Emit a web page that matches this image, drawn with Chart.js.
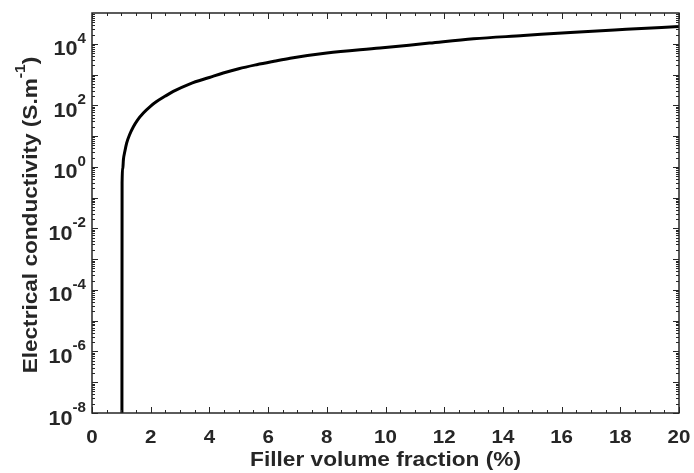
<!DOCTYPE html>
<html>
<head>
<meta charset="utf-8">
<script src="https://cdn.jsdelivr.net/npm/chart.js@4/dist/chart.umd.min.js"></script>
<style>
  html, body { margin: 0; padding: 0; background: #ffffff; }
  #wrap { width: 694px; height: 473px; }
</style>
</head>
<body>
<div id="wrap"><canvas id="chart" width="694" height="473"></canvas></div>
<script>
// filler volume fraction (%) and conductivity (S/m)
const fraction = [1.02, 1.025, 1.05, 1.07, 1.12, 1.18, 1.28, 1.41, 1.55, 1.75, 2.0, 2.2, 2.5, 2.77, 3.34, 4.0, 4.47, 5.0, 5.61, 6.2, 6.75, 8.0, 9.81, 11.5, 13.0, 14.7, 16.3, 18.2, 20.0];
const conductivity = [1e-8, 0.3, 0.9, 1.7, 3.2, 5.9, 11, 20, 33, 56, 94, 132, 200, 282, 500, 800, 1120, 1550, 2090, 2700, 3390, 5000, 7240, 10500, 14500, 18500, 23400, 29500, 36300];

const xTicks = [0, 2, 4, 6, 8, 10, 12, 14, 16, 18, 20];
const yTickExponents = [-8, -6, -4, -2, 0, 2, 4];

const xTitle = "Filler volume fraction (%)";
const yTitleMain = "Electrical conductivity (S.m";
const yTitleSup = "-1";

const INK = "#262626";
const FONT = "'Liberation Sans', Arial, sans-serif";

// draws text stretched horizontally, returns drawn width
const stretchText = (ctx, text, x, y, size, align, stretch) => {
  ctx.font = "bold " + size + "px " + FONT;
  const w = ctx.measureText(text).width * stretch;
  let left = x;
  if (align === "center") left = x - w / 2;
  if (align === "right") left = x - w;
  ctx.save();
  ctx.translate(left, y);
  ctx.scale(stretch, 1);
  ctx.textAlign = "left";
  ctx.textBaseline = "middle";
  ctx.fillText(text, 0, 0);
  ctx.restore();
  return w;
};

const measure = (ctx, text, size, stretch) => {
  ctx.font = "bold " + size + "px " + FONT;
  return ctx.measureText(text).width * stretch;
};

const matlabAxes = {
  id: "matlabAxes",
  afterDraw(chart) {
    const ctx = chart.ctx;
    const area = chart.chartArea;
    const xs = chart.scales.x;
    const ys = chart.scales.y;
    ctx.save();
    ctx.strokeStyle = INK;
    ctx.lineWidth = 1.5;
    ctx.strokeRect(area.left, area.top, area.right - area.left, area.bottom - area.top);

    // x ticks (inward, bottom and top)
    ctx.lineWidth = 1;
    for (let v = 0; v <= 20.001; v += 0.5) {
      const px = Math.round(xs.getPixelForValue(v)) + 0.5;
      const len = Math.abs(v % 2) < 1e-6 ? 6 : 3;
      ctx.beginPath();
      ctx.moveTo(px, area.bottom);
      ctx.lineTo(px, area.bottom - len);
      ctx.moveTo(px, area.top);
      ctx.lineTo(px, area.top + len);
      ctx.stroke();
    }
    // y ticks (log, with minors)
    for (let d = -8; d <= 4; d++) {
      for (let k = 1; k <= 9; k++) {
        const val = k * Math.pow(10, d);
        const py = Math.round(ys.getPixelForValue(val)) + 0.5;
        if (py < area.top) continue;
        const len = k === 1 ? 6 : 3;
        ctx.beginPath();
        ctx.moveTo(area.left, py);
        ctx.lineTo(area.left + len, py);
        ctx.moveTo(area.right, py);
        ctx.lineTo(area.right - len, py);
        ctx.stroke();
      }
    }

    ctx.fillStyle = INK;

    // x tick labels
    xTicks.forEach((v) => {
      stretchText(ctx, String(v), xs.getPixelForValue(v), area.bottom + 25, 19, "center", 1.08);
    });

    // y tick labels 10^n
    yTickExponents.forEach((e) => {
      const py = ys.getPixelForValue(Math.pow(10, e));
      const sup = e < 0 ? "-" + Math.abs(e) : String(e);
      const right = area.left - 6;
      const supW = stretchText(ctx, sup, right, py - 5, 14, "right", 1.08);
      stretchText(ctx, "10", right - supW, py + 6, 20, "right", 1.08);
    });

    // x title
    stretchText(ctx, xTitle, (area.left + area.right) / 2, area.bottom + 47, 21, "center", 1.08);

    // y title, rotated, with superscript
    ctx.save();
    ctx.translate(31, 215);
    ctx.rotate(-Math.PI / 2);
    const st = 1.13;
    const wMain = measure(ctx, yTitleMain, 20, st);
    const wSup = measure(ctx, yTitleSup, 14, st);
    const wClose = measure(ctx, ")", 20, st);
    const x0 = -(wMain + wSup + wClose) / 2;
    stretchText(ctx, yTitleMain, x0, 0, 20, "left", st);
    stretchText(ctx, yTitleSup, x0 + wMain, -10, 14, "left", st);
    stretchText(ctx, ")", x0 + wMain + wSup, 0, 20, "left", st);
    ctx.restore();

    ctx.restore();
  },
};

new Chart(document.getElementById("chart"), {
  type: "scatter",
  data: {
    datasets: [
      {
        data: fraction.map((x, i) => ({ x: x, y: conductivity[i] })),
        showLine: true,
        borderColor: "#000000",
        borderWidth: 3,
        pointRadius: 0,
        cubicInterpolationMode: "monotone",
      },
    ],
  },
  options: {
    responsive: false,
    animation: false,
    layout: { padding: { left: 92, top: 13, right: 15, bottom: 60 } },
    plugins: { legend: { display: false }, tooltip: { enabled: false } },
    scales: {
      x: { type: "linear", min: 0, max: 20, display: false },
      y: { type: "logarithmic", min: 1e-8, max: 1e5, display: false },
    },
  },
  plugins: [matlabAxes],
});
</script>
</body>
</html>
